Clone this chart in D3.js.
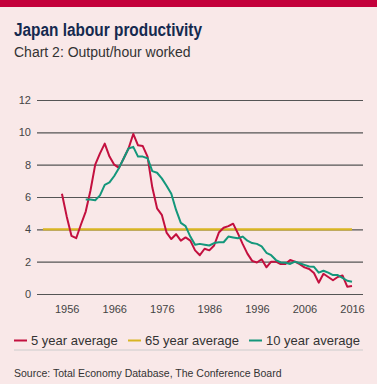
<!DOCTYPE html>
<meta charset="utf-8">
<script src="https://cdn.jsdelivr.net/npm/d3@7"></script>
<style>
  body { margin: 0; background: #f9e8e8; }
  text { font-family: "Liberation Sans", Arial, sans-serif; }
</style>
<body>
<script>

var width = 377
var height = 384

// 5 year average, annual from 1955
var red_start = 1955
var red_values = [6.2, 4.8, 3.6, 3.45, 4.3, 5.1, 6.4, 8.0, 8.7, 9.3,
                  8.5, 8.0, 7.8, 8.4, 9.0, 9.9, 9.2, 9.15, 8.5, 6.6,
                  5.3, 4.9, 3.8, 3.4, 3.7, 3.3, 3.5, 3.3, 2.7, 2.4,
                  2.8, 2.7, 3.0, 3.8, 4.1, 4.2, 4.35, 3.75, 3.1, 2.5,
                  2.05, 1.95, 2.15, 1.65, 2.0, 2.0, 1.85, 1.85, 2.1, 2.0,
                  1.85, 1.65, 1.55, 1.3, 0.7, 1.25, 1.05, 0.85, 1.05, 1.15,
                  0.45, 0.5]

// 10 year average, annual from 1960
var green_start = 1960
var green_values = [5.85, 5.85, 5.8, 6.1, 6.75, 6.9, 7.3, 7.8, 8.4, 9.0,
                    9.1, 8.5, 8.5, 8.4, 7.6, 7.5, 7.15, 6.7, 6.2, 5.2,
                    4.4, 4.2, 3.55, 3.05, 3.1, 3.05, 3.0, 3.15, 3.2, 3.2,
                    3.55, 3.5, 3.45, 3.55, 3.3, 3.15, 3.1, 2.95, 2.55, 2.4,
                    2.1, 1.95, 1.93, 1.86, 2.0, 1.9, 1.8, 1.7, 1.68, 1.32,
                    1.44, 1.32, 1.17, 1.17, 1.0, 0.82, 0.76]

// 65 year average
var yellow_years = [1951, 2016]
var yellow_values = [4.0, 4.0]

var x_ticks = [1956, 1966, 1976, 1986, 1996, 2006, 2016]
var y_ticks = [0, 2, 4, 6, 8, 10, 12]
var legend_labels = ["5 year average", "65 year average", "10 year average"]
var colors = ["#c3103f", "#d8b522", "#14977b"]

var x = d3.scaleLinear().domain([1956, 2016]).range([66.7, 352]);
var y = d3.scaleLinear().domain([0, 12]).range([294, 100]);

var svg = d3.select("body").append("svg")
            .attr("width", width)
            .attr("height", height)
            .style("display", "block");

svg.append("rect").attr("width", width).attr("height", height).attr("fill", "#f9e8e8");
svg.append("rect").attr("width", width).attr("height", 7).attr("fill", "#c4003b");

svg.append("text")
   .attr("x", 14).attr("y", 36)
   .style("font-family", "'Liberation Sans Narrow', 'Liberation Sans', Arial, sans-serif")
   .style("font-weight", "bold")
   .style("font-size", "17.5px")
   .attr("textLength", 188)
   .attr("lengthAdjust", "spacingAndGlyphs")
   .attr("fill", "#152a4f")
   .text("Japan labour productivity");

svg.append("text")
   .attr("x", 14).attr("y", 57)
   .style("font-size", "14px")
   .attr("fill", "#333")
   .text("Chart 2: Output/hour worked");

// gridlines + y labels
var yAxis = svg.append("g")
    .attr("transform", "translate(37,0)")
    .call(d3.axisLeft(y).tickValues(y_ticks).tickSize(-(363 - 37)).tickPadding(6));
yAxis.select(".domain").remove();
yAxis.selectAll("line").attr("stroke", "#555").attr("stroke-width", 1.2);
yAxis.selectAll("text").attr("fill", "#444").style("font-size", "11px");

var xAxis = svg.append("g")
    .attr("transform", "translate(0,294)")
    .call(d3.axisBottom(x).tickValues(x_ticks).tickFormat(d3.format("d")).tickSize(0).tickPadding(11));
xAxis.select(".domain").remove();
xAxis.selectAll("text").attr("fill", "#444").style("font-size", "11px");

var line = d3.line().x(function(d) { return x(d[0]); }).y(function(d) { return y(d[1]); });

var yellow_data = yellow_years.map(function(yr, i) { return [yr, yellow_values[i]]; });
var red_data = red_values.map(function(v, i) { return [red_start + i, v]; });
var green_data = green_values.map(function(v, i) { return [green_start + i, v]; });

svg.append("path").attr("d", line(yellow_data)).attr("stroke", colors[1]).attr("stroke-width", 2.2).attr("fill", "none");
svg.append("path").attr("d", line(red_data)).attr("stroke", colors[0]).attr("stroke-width", 2).attr("fill", "none").attr("stroke-linejoin", "round");
svg.append("path").attr("d", line(green_data)).attr("stroke", colors[2]).attr("stroke-width", 2).attr("fill", "none").attr("stroke-linejoin", "round");

// legend
var legend_x = [14, 128, 249];
var legend = svg.append("g");
legend_labels.forEach(function(lbl, i) {
  legend.append("line")
        .attr("x1", legend_x[i]).attr("x2", legend_x[i] + 13)
        .attr("y1", 340.5).attr("y2", 340.5)
        .attr("stroke", colors[i]).attr("stroke-width", 2);
  legend.append("text")
        .attr("x", legend_x[i] + 17).attr("y", 345)
        .style("font-size", "13px")
        .attr("fill", "#333")
        .text(lbl);
});

svg.append("line")
   .attr("x1", 14).attr("x2", 363).attr("y1", 350).attr("y2", 350)
   .attr("stroke", "#ccc").attr("stroke-width", 1);

svg.append("text")
   .attr("x", 14).attr("y", 377)
   .style("font-size", "10.5px")
   .attr("fill", "#333")
   .text("Source: Total Economy Database, The Conference Board");

</script>
</body>
